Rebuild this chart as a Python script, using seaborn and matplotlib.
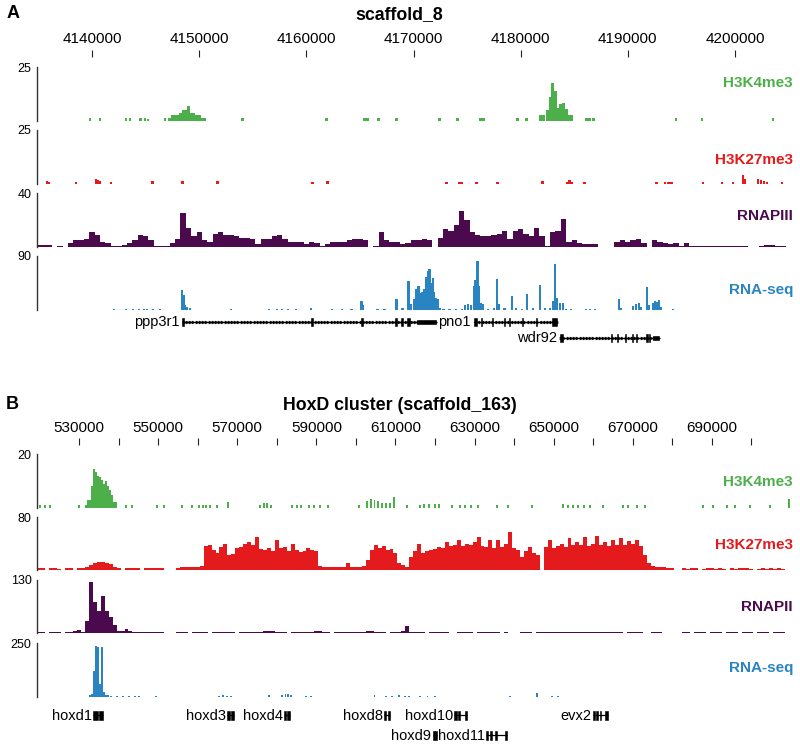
import numpy as np
import pandas as pd
import matplotlib
matplotlib.use("Agg")
import matplotlib.pyplot as plt
import seaborn as sns

# all genomic positions are in kb

# ---- panel A : scaffold_8 ----
a_xlim = (4134.86, 4205.14)
a_ticks = [4140, 4150, 4160, 4170, 4180, 4190, 4200]

a_k4_pos = [4139.81, 4140.75, 4143.18, 4143.55, 4144.49, 4144.95, 4145.23, 4146.82, 4147.20,
            4147.5, 4147.75, 4148.0, 4148.25, 4148.5, 4148.75, 4149.0, 4149.25, 4149.5, 4149.75, 4150.0,
            4150.28, 4150.47, 4154.02, 4161.87, 4165.42, 4165.70, 4166.73, 4168.41, 4172.43, 4174.11,
            4176.26, 4176.54, 4179.72, 4180.56, 4181.87, 4182.15,
            4182.5, 4182.75, 4183.0, 4183.25, 4183.5, 4183.75, 4184.0, 4184.25, 4184.5, 4184.75,
            4186.17, 4186.45, 4186.82, 4194.49, 4196.92, 4203.55]
a_k4_val = [1.2, 1.2, 1.2, 1.2, 1.2, 1.2, 1.0, 1.5, 1.5,
            2.8, 2.8, 2.8, 3.5, 5.0, 5.0, 6.9, 3.5, 3.5, 2.8, 2.8,
            1.2, 1.2, 1.2, 1.2, 1.2, 1.2, 1.2, 1.2, 1.2, 1.2,
            1.2, 1.2, 1.2, 1.2, 2.8, 2.8,
            5.0, 11.3, 17.4, 14.0, 6.0, 8.0, 8.5, 5.5, 2.8, 2.8,
            1.5, 1.5, 1.5, 1.2, 1.2, 1.2]

a_k27_pos = [4135.79, 4135.98, 4138.50, 4140.37, 4140.56, 4140.75, 4141.78, 4145.61, 4148.41, 4151.68,
             4160.56, 4161.96, 4173.08, 4174.30, 4174.49, 4175.89, 4177.85, 4182.06, 4184.39, 4184.58,
             4184.77, 4185.98, 4192.71, 4193.46, 4193.83, 4194.11, 4197.01, 4198.79, 4199.81, 4200.75,
             4200.93, 4202.15, 4202.43, 4202.71, 4202.99, 4204.39]
a_k27_val = [1.2, 0.8, 1.0, 2.3, 2.0, 1.5, 1.0, 1.2, 1.2, 1.2,
             1.0, 1.2, 1.0, 0.8, 0.8, 1.0, 1.0, 1.5, 1.0, 1.8,
             1.0, 0.8, 1.0, 1.0, 1.0, 1.0, 0.8, 1.0, 1.0, 4.2,
             2.5, 2.3, 2.0, 1.2, 0.8, 1.0]

# RNAPIII, 0.5 kb bins starting at 4134.75
a_pol_start = 4134.75
a_pol_bin = 0.5
a_pol_val = [1.7, 1.7, 1.5, 0, 0.8, 0, 3, 5, 5, 6,
             11, 9, 4, 3, 1, 0.5, 1.5, 3, 5, 9,
             8, 5, 1, 1, 1, 3, 6, 25, 14, 8,
             11, 5, 4, 10, 11, 9, 9, 8, 7, 7,
             6, 2, 6, 6, 8, 9, 6, 4, 4, 3.5,
             2, 4, 3, 1, 2, 4, 4, 4, 5, 6,
             6, 5, 0, 1, 11, 5, 4, 4, 2.5, 3,
             5, 5, 6, 5, 0, 7, 13, 12, 16, 27,
             20, 11, 9, 8, 8, 9, 10, 12, 6, 12,
             13, 10, 8, 14, 8, 1, 11, 12, 21, 4,
             5, 3, 2, 2, 2, 0, 0, 0, 4, 5,
             4, 5, 6, 3, 0, 5, 4, 3, 2, 3,
             1, 3, 1, 1, 1, 1, 0.8, 1, 0.8, 1,
             0.8, 1, 1, 0, 0, 1, 1.5, 1.5, 1, 1]

a_rna_pos = [4142.06, 4143.18, 4143.83, 4144.39, 4144.86, 4145.14, 4145.70, 4146.36,
             4148.41, 4148.55, 4148.69, 4148.88, 4149.16,
             4152.99, 4156.54, 4157.29, 4157.76, 4158.32, 4159.07, 4160.47, 4162.43, 4163.36, 4164.21,
             4165.14, 4165.28, 4166.64, 4167.29, 4168.41, 4168.97,
             4169.53, 4169.72, 4170.09, 4170.28, 4170.47, 4170.65, 4170.84, 4171.03, 4171.21, 4171.36,
             4171.50, 4171.64, 4171.78, 4171.92, 4172.06, 4172.24, 4172.43, 4172.80, 4173.36, 4173.93,
             4174.49, 4174.77, 4175.05, 4175.33, 4175.61, 4175.79, 4175.98, 4176.12, 4176.26, 4176.45,
             4176.92, 4177.48, 4177.76, 4177.94, 4178.50, 4179.16, 4179.53, 4180.09, 4180.56, 4181.12,
             4181.78, 4182.24, 4182.71, 4182.99, 4183.18, 4183.36, 4183.64, 4183.93, 4184.21, 4184.67,
             4186.07, 4186.45, 4186.92, 4189.16, 4189.35, 4190.47, 4190.75, 4191.03, 4191.21, 4191.78,
             4191.96, 4192.34, 4192.52, 4192.71, 4192.90, 4193.08, 4194.21]
a_rna_val = [1.5, 1.5, 1.5, 2, 1.5, 1, 1, 1.5,
             33, 25, 8, 5, 3,
             1.5, 1.5, 1.5, 1.5, 1.5, 1.5, 3, 1.5, 1.5, 1.5,
             15, 8, 1.5, 2, 19, 3,
             49, 10, 18, 35, 40, 28, 30, 35, 55, 65,
             68, 45, 54, 30, 20, 18, 3, 1.5, 1.5, 1.5,
             2, 8, 10, 8, 40, 50, 82, 40, 12, 10,
             1.5, 4, 52, 10, 3, 23, 3, 1.5, 27, 3,
             41, 3, 3, 15, 77, 20, 12, 12, 2, 1.5,
             1.5, 1.5, 1.5, 19, 4, 6, 10, 12, 5, 38,
             8, 12, 15, 13, 16, 5, 1.5]

a_gene_names = ["ppp3r1", "pno1", "wdr92"]
a_gene_rows = [0, 0, 1]
a_gene_strands = [1, -1, 1]
a_gene_exons = [
    [(4148.41, 4148.62), (4160.45, 4160.60), (4165.12, 4165.28), (4168.30, 4168.45),
     (4168.86, 4168.98), (4169.44, 4169.70)],
    [(4175.61, 4175.95), (4176.30, 4176.42), (4177.32, 4177.44), (4178.44, 4178.56),
     (4178.91, 4179.03), (4180.13, 4180.25), (4181.44, 4181.56), (4182.95, 4183.36)],
    [(4183.64, 4183.93), (4188.44, 4188.56), (4189.01, 4189.13), (4189.75, 4189.87),
     (4190.41, 4190.53), (4190.78, 4190.90), (4191.72, 4191.84), (4192.00, 4192.12)],
]
a_gene_utrs = [[(4170.28, 4172.15)], [], [(4192.24, 4193.05)]]

# ---- panel B : HoxD cluster (scaffold_163) ----
b_xlim = (519.37, 709.75)
b_ticks = [530, 540, 550, 560, 570, 580, 590, 600, 610, 620, 630, 640, 650, 660, 670, 680, 690, 700]
b_labels = ["530000", "", "550000", "", "570000", "", "590000", "", "610000", "",
            "630000", "", "650000", "", "670000", "", "690000", ""]

b_k4_pos = [520.13, 521.4, 522.66, 530.0, 531.77,
            532.28, 532.78, 533.29, 533.80, 534.30, 534.81, 535.32, 535.82, 536.33, 536.84, 537.34,
            537.85, 538.35, 538.86, 539.37,
            541.9, 543.4, 549.7, 551.5, 556.1, 558.6, 560.4, 561.4, 562.2, 563.2, 564.9, 567.7,
            575.8, 576.8, 577.6, 578.6, 583.9, 585.2, 586.2, 588.2, 589.5, 591.0, 593.0,
            600.9, 602.7, 603.7, 604.7, 605.7, 606.7, 607.7, 608.7, 609.7,
            613.0, 616.1, 617.3, 618.6, 619.9, 621.1, 624.4, 626.2, 627.7, 629.2, 630.8,
            635.6, 638.4, 644.4, 652.3, 653.5, 654.8, 656.1, 657.6, 659.1, 662.4,
            667.5, 668.7, 671.0, 673.0, 687.7, 690.3, 693.8, 695.8, 699.6, 704.7, 709.5]
b_k4_val = [1.2, 1.2, 1.2, 1.2, 1.2,
            2.8, 2.8, 8, 14.6, 13.3, 12, 11.5, 10.2, 9, 10, 8,
            6.5, 4.7, 2.2, 2.2,
            1.2, 1.2, 1.2, 1.2, 1.2, 1.2, 1.2, 1.2, 1.2, 1.2, 1.2, 2.2,
            1.2, 1.8, 1.8, 1.2, 1.2, 1.2, 1.2, 1.2, 1.2, 1.2, 1.2,
            1.2, 2.5, 3.5, 3, 2.5, 2, 1.8, 2, 4,
            1.2, 1.2, 1.6, 1.6, 1.6, 1.6, 1.2, 1.2, 1.2, 1.2, 1.2,
            1.2, 1.2, 1.2, 1.5, 1.2, 1.2, 1.2, 1.2, 1.2, 1.2,
            1.2, 1.2, 1.2, 1.2, 1.2, 1.2, 1.2, 1.2, 1.2, 1.2, 3.5]

# H3K27me3 and RNAPII, 1 kb bins starting at 519.5
b_bin_start = 519.5
b_bin = 1.0
b_k27_val = [2.5, 2.5, 0, 2.5, 2.5, 2, 0, 2.5, 2.5, 0,
             2.5, 3, 5, 8, 10, 12, 12.5, 11, 9, 5,
             2.5, 0, 2.5, 2.5, 3, 2.5, 0, 2.5, 2.5, 2.5,
             2.5, 2.5, 0, 0, 0, 3, 4, 4.5, 5, 5,
             5, 6, 36, 38, 30, 25, 34, 40, 22, 24,
             33, 35, 40, 42, 38, 50, 32, 30, 33, 28,
             45, 33, 35, 28, 40, 30, 27, 28, 33, 30,
             28, 6, 4, 4, 4, 4, 5, 5, 11, 4,
             5, 5, 6, 15, 30, 38, 33, 36, 30, 32,
             25, 10, 8, 4, 20, 28, 40, 26, 28, 30,
             32, 35, 33, 42, 36, 38, 45, 36, 40, 38,
             42, 50, 36, 34, 45, 33, 46, 35, 40, 58,
             33, 30, 20, 28, 35, 25, 22, 0, 35, 45,
             33, 36, 40, 34, 48, 38, 42, 37, 50, 36,
             40, 52, 38, 43, 36, 45, 38, 48, 38, 44,
             40, 46, 36, 22, 10, 6, 5, 4, 4, 3.5,
             3, 0, 0, 2.5, 2, 2.5, 2.5, 0, 2, 2.5,
             2.5, 2, 2.5, 2, 0, 2.5, 2, 2.5, 3, 2.5,
             2, 0, 2, 2.5, 2, 2.5, 2, 2.5, 2, 0]
b_pol_val = [1.5, 1.5, 0, 1.5, 1.5, 1.5, 0, 1.5, 1.5, 6,
             8, 2, 30, 125, 75, 55, 90, 55, 40, 20,
             5, 5, 10, 6, 2, 2, 2, 1.5, 2, 2,
             1.5, 2, 0, 0, 0, 1.5, 2, 2, 0, 2,
             2, 2, 2, 0, 2, 2, 2, 2, 2.5, 2.5,
             0, 2.5, 2.5, 2.5, 3, 3, 3, 4, 6, 4,
             3, 2.5, 2.5, 0, 2.5, 2.5, 2.5, 2.5, 3, 3,
             4, 4, 3, 2.5, 0, 2.5, 2.5, 2.5, 2.5, 2.5,
             3, 3, 3.5, 4, 4, 3, 2.5, 2.5, 0, 2.5,
             2.5, 3, 4, 18, 3, 2, 2, 2, 0, 2,
             2, 2, 2, 2, 0, 0, 2, 2, 2, 2,
             0, 2, 2, 2, 2, 2, 2, 0, 2, 0,
             0, 0, 2, 2.5, 2.5, 0, 2.5, 2.5, 2.5, 3,
             3, 3, 3, 3, 3.5, 3.5, 3, 3, 3, 3,
             2.5, 2.5, 2.5, 2.5, 2, 2, 2, 2, 0, 2,
             2, 2, 2, 0, 0, 2, 2, 2, 0, 0,
             0, 0, 0, 2, 2, 0, 2, 2, 2, 0,
             2, 2, 2, 0, 2, 2, 2, 0, 2, 2,
             2, 0, 2, 2, 2, 0, 2, 2, 2, 0]

b_rna_pos = [532.78, 533.29, 533.8, 534.3, 534.8, 535.3, 535.8, 536.3, 536.8, 537.3,
             538.1, 539.6, 541.1, 542.7, 544.2, 545.2, 549.5, 565.4, 566.5, 567.5,
             568.5, 578.1, 581.4, 582.2, 582.9, 583.7, 587.5, 588.7, 604.7, 607.7,
             609.2, 611.0, 612.3, 613.5, 616.1, 618.1, 620.1, 638.9, 645.9, 649.7, 651.0]
b_rna_val = [10, 15, 120, 236, 230, 60, 230, 25, 10, 8,
             6, 6, 6, 6, 6, 6, 6, 6, 8, 6,
             6, 8, 8, 12, 12, 8, 6, 6, 8, 6,
             6, 7, 6, 6, 6, 6, 6, 6, 18, 6, 6]

b_gene_names = ["hoxd1", "hoxd3", "hoxd4", "hoxd8", "hoxd9", "hoxd10", "hoxd11", "evx2"]
b_gene_rows = [0, 0, 0, 0, 1, 0, 1, 0]
b_gene_exons = [
    [(533.6, 534.8), (535.0, 536.1)],
    [(567.4, 568.2), (568.5, 569.3)],
    [(581.8, 582.4), (582.7, 583.3)],
    [(607.2, 607.7), (608.1, 608.7)],
    [(619.4, 619.9), (620.1, 620.6)],
    [(624.9, 625.5), (625.9, 626.3), (627.6, 628.2)],
    [(633.0, 633.5), (633.8, 634.3), (635.2, 635.6), (637.6, 638.1)],
    [(659.9, 660.4), (660.8, 661.15), (661.7, 662.05), (663.1, 663.7)],
]

C_GREEN = "#4daf4a"
C_RED = "#e41a1c"
C_PURPLE = "#4b0a4e"
C_BLUE = "#2a84c2"
C_AXIS = "#333333"

W, H = 800, 748
sns.set_style("white")
plt.rcParams["font.family"] = ["Liberation Sans", "DejaVu Sans"]
plt.rcParams["text.color"] = "black"
plt.rcParams["xtick.color"] = "black"
plt.rcParams["ytick.color"] = "black"

fig = plt.figure(figsize=(W / 100, H / 100), dpi=100)


def px_axes(x0, y0, x1, y1):
    return fig.add_axes([x0 / W, 1 - y1 / H, (x1 - x0) / W, (y1 - y0) / H])


def ftext(x, y, s, **kw):
    fig.text(x / W, 1 - y / H, s, **kw)


def style_track(ax, xlim, ymax):
    ax.set_xlim(*xlim)
    ax.set_ylim(0, ymax)
    ax.set_xticks([])
    ax.set_yticks([0, ymax])
    ax.set_yticklabels(["", str(ymax)])
    ax.set_xlabel("")
    ax.set_ylabel("")
    ax.patch.set_alpha(0)
    sns.despine(ax=ax, bottom=True)
    ax.spines["left"].set_color(C_AXIS)
    ax.spines["left"].set_linewidth(1.0)
    ax.tick_params(axis="y", length=3, width=1.0, color=C_AXIS, labelcolor="black",
                   pad=1, labelsize=9)


def dense_track(top, bottom, xlim, start, binw, vals, ymax, color):
    ax = px_axes(37, top, 790, bottom)
    n = len(vals)
    df = pd.DataFrame({"pos": start + binw * (np.arange(n) + 0.5), "signal": vals})
    edges = (start + binw * np.arange(n + 1)).tolist()
    sns.histplot(data=df, x="pos", weights="signal", bins=edges, element="step", fill=True,
                 color=color, alpha=1, linewidth=0, ax=ax)
    style_track(ax, xlim, ymax)
    return ax


def spike_track(top, bottom, xlim, pos, vals, width, ymax, color):
    ax = px_axes(37, top, 790, bottom)
    ax.bar(pos, vals, width=width, color=color, linewidth=0)
    style_track(ax, xlim, ymax)
    return ax


def ruler(tick_top, xlim, ticks, labels, pad):
    ax = px_axes(37, tick_top + 7, 790, tick_top + 8)
    ax.set_xlim(*xlim)
    ax.xaxis.tick_top()
    ax.set_xticks(ticks)
    ax.set_xticklabels(labels)
    ax.set_yticks([])
    ax.tick_params(axis="x", direction="out", length=5, width=0.8, color="#222222",
                   labelcolor="black", pad=pad, labelsize=11, top=True, bottom=False)
    for sp in ax.spines.values():
        sp.set_visible(False)
    ax.patch.set_alpha(0)


def genes(top, bottom, xlim, names, rows, exons, utrs, strands, exon_h, gap, chev):
    ax = px_axes(37, top, 790, bottom)
    ax.set_xlim(*xlim)
    ax.set_ylim(1.5, -0.5)
    ax.axis("off")
    for i, name in enumerate(names):
        row = rows[i]
        parts = exons[i] + (utrs[i] if utrs else [])
        s = min(p[0] for p in parts)
        e = max(p[1] for p in parts)
        ax.plot([s, e], [row, row], color="black", lw=0.9, solid_capstyle="butt")
        if strands is not None:
            mk = ">" if strands[i] > 0 else "<"
            xs = np.arange(s + chev / 2, e, chev)
            ax.plot(xs, [row] * len(xs), ls="none", marker=mk, ms=2.2, mew=0.4,
                    color="black")
        ax.broken_barh([(a, b - a) for a, b in exons[i]], (row - exon_h / 2, exon_h),
                       facecolors="black", edgecolors="black", linewidth=0.4)
        if utrs and utrs[i]:
            ax.broken_barh([(a, b - a) for a, b in utrs[i]], (row - exon_h * 0.36, exon_h * 0.72),
                           facecolors="black")
        ax.text(s - gap, row + 0.25, name, ha="right", va="baseline", fontsize=10.5)


# ---------- panel A ----------
ftext(13, 14, "A", ha="center", va="center", fontsize=13, fontweight="bold")
ftext(399, 19.5, "scaffold_8", ha="center", va="baseline", fontsize=12.8, fontweight="bold")
ruler(50, a_xlim, a_ticks, [str(t * 1000) for t in a_ticks], 3)

spike_track(67, 121, a_xlim, a_k4_pos, a_k4_val, 0.25, 25, C_GREEN)
spike_track(130, 184, a_xlim, a_k27_pos, a_k27_val, 0.25, 25, C_RED)
dense_track(193, 247, a_xlim, a_pol_start, a_pol_bin, a_pol_val, 40, C_PURPLE)
spike_track(256, 310, a_xlim, a_rna_pos, a_rna_val, 0.2, 90, C_BLUE)

ftext(793, 83, "H3K4me3", ha="right", va="center", fontsize=11, fontweight="bold", color=C_GREEN)
ftext(793, 160, "H3K27me3", ha="right", va="center", fontsize=11, fontweight="bold", color=C_RED)
ftext(793, 216, "RNAPIII", ha="right", va="center", fontsize=11, fontweight="bold", color=C_PURPLE)
ftext(793, 290, "RNA-seq", ha="right", va="center", fontsize=11, fontweight="bold", color=C_BLUE)

genes(314, 346, a_xlim, a_gene_names, a_gene_rows, a_gene_exons, a_gene_utrs,
      a_gene_strands, 0.5, 0.25, 0.3)

# ---------- panel B ----------
ftext(12, 404, "B", ha="center", va="center", fontsize=13, fontweight="bold")
ftext(400, 409.5, "HoxD cluster (scaffold_163)", ha="center", va="baseline",
      fontsize=12.8, fontweight="bold")
ruler(438, b_xlim, b_ticks, b_labels, 2)

spike_track(454, 508, b_xlim, b_k4_pos, b_k4_val, 0.5, 20, C_GREEN)
dense_track(517, 570, b_xlim, b_bin_start, b_bin, b_k27_val, 80, C_RED)
dense_track(580, 633, b_xlim, b_bin_start, b_bin, b_pol_val, 130, C_PURPLE)
spike_track(643, 697, b_xlim, b_rna_pos, b_rna_val, 0.5, 250, C_BLUE)

ftext(793, 482, "H3K4me3", ha="right", va="center", fontsize=11, fontweight="bold", color=C_GREEN)
ftext(793, 545, "H3K27me3", ha="right", va="center", fontsize=11, fontweight="bold", color=C_RED)
ftext(793, 607, "RNAPII", ha="right", va="center", fontsize=11, fontweight="bold", color=C_PURPLE)
ftext(793, 668, "RNA-seq", ha="right", va="center", fontsize=11, fontweight="bold", color=C_BLUE)

genes(705, 745, b_xlim, b_gene_names, b_gene_rows, b_gene_exons, None, None, 0.45, 0.3, 1.0)

fig.savefig("out.png", dpi=100)
